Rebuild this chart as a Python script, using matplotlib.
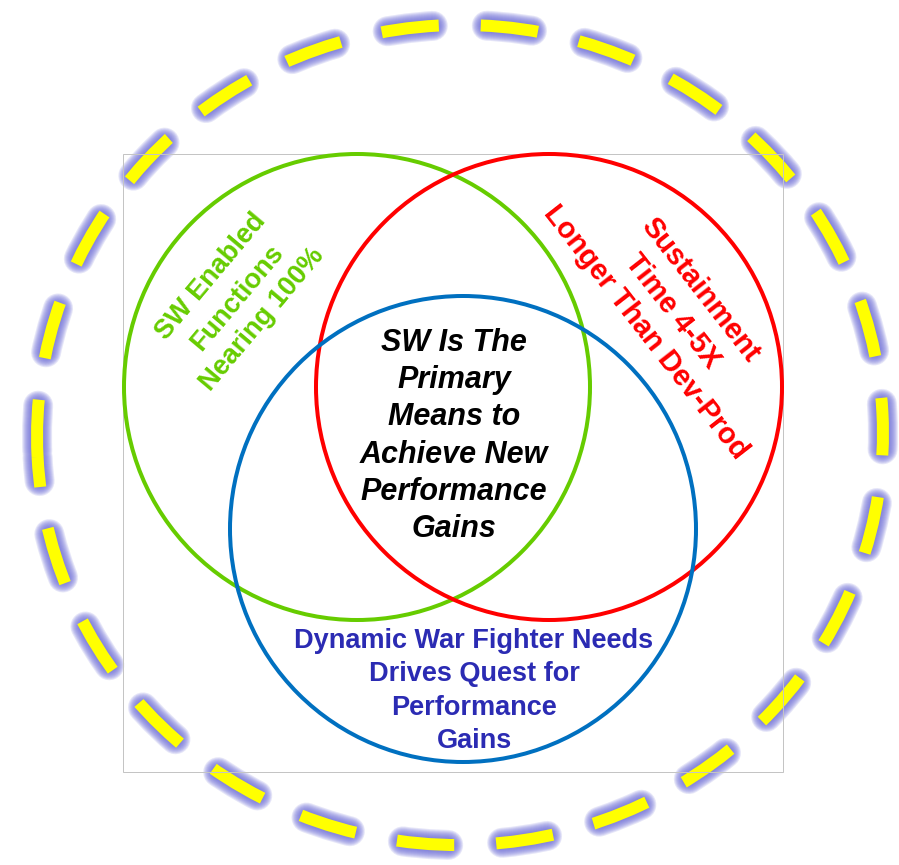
"""
Venn diagram: software as the means to new performance gains
Three overlapping circles inside a glowing dashed ring.
"""
import numpy as np
import matplotlib
matplotlib.use("Agg")
import matplotlib.pyplot as plt
from matplotlib.patches import Circle, Ellipse, Rectangle

# ── Data ──────────────────────────────────────────────────────────────────────
set_names   = ["SW Enabled\nFunctions\nNearing 100%",
               "Sustainment\nTime 4-5X\nLonger Than Dev-Prod",
               "Dynamic War Fighter Needs\nDrives Quest for\nPerformance\nGains"]
centre_text = "SW Is The\nPrimary\nMeans to\nAchieve New\nPerformance\nGains"
circle_x    = [357, 549, 463]      # circle centres (pixel space)
circle_y    = [387, 387, 529]
circle_r    = [233, 233, 233]
set_colors  = ["#66cc00", "#ff0000", "#0070c0"]
text_colors = ["#66cc00", "#ff0000", "#2b2bb3"]

# ── Figure in pixel coordinates ──────────────────────────────────────────────
W, H = 899, 865
plt.rcParams["lines.scale_dashes"] = False
fig = plt.figure(figsize=(W / 100, H / 100), dpi=100)
ax = fig.add_axes([0, 0, 1, 1])
ax.set_xlim(0, W)
ax.set_ylim(H, 0)
ax.set_aspect("equal")
ax.axis("off")

PX = 0.72  # points per pixel at dpi 100

# ── Glowing dashed ring ───────────────────────────────────────────────────────
# the unit-circle path starts at (0,-1); rotating by 267 deg puts the start
# just below the left-most point, running clockwise on screen.
# 26 full dash periods plus a short tail that joins the first dash
ring_cx, ring_cy, ring_rx, ring_ry = 460, 435, 423, 410
a, b = ring_rx, ring_ry
perim = np.pi * (3 * (a + b) - np.sqrt((3 * a + b) * (a + 3 * b)))
tail = 30
period = (perim - tail) / 26
dash = 57.5
gap = period - dash
yl_w = 12
start_angle = 267

# glow: round-capped strokes, shortened by half the yellow width so the
# halo reaches e pixels past each yellow dash end
for e in range(1, 10):
    ax.add_patch(Ellipse((ring_cx, ring_cy), 2 * ring_ry, 2 * ring_rx,
                         angle=start_angle, fill=False,
                         edgecolor="#6e6ed8", alpha=0.17,
                         linewidth=(yl_w + 2 * e) * PX, capstyle="round",
                         linestyle=((period - 6) * PX,
                                    ((dash - 12) * PX, (gap + 12) * PX)),
                         zorder=1))
ax.add_patch(Ellipse((ring_cx, ring_cy), 2 * ring_ry, 2 * ring_rx,
                     angle=start_angle, fill=False, edgecolor="#ffff00",
                     linewidth=yl_w * PX, capstyle="butt",
                     linestyle=(0, (dash * PX, gap * PX)), zorder=2))

# ── Frame ─────────────────────────────────────────────────────────────────────
ax.add_patch(Rectangle((122.5, 153.5), 660.5, 618, fill=False,
                       edgecolor="#c4c4c4", linewidth=1 * PX, zorder=3))

# ── Circles ───────────────────────────────────────────────────────────────────
for x, y, r, c in zip(circle_x, circle_y, circle_r, set_colors):
    ax.add_patch(Circle((x, y), r, fill=False, edgecolor=c,
                        linewidth=4 * PX, zorder=4))

# ── Labels ────────────────────────────────────────────────────────────────────
font = "Liberation Sans"
ax.text(237, 298, set_names[0], color=text_colors[0], fontsize=19.5,
        fontweight="bold", family=font, rotation=50, rotation_mode="anchor",
        ha="center", va="center", multialignment="center", linespacing=1.37,
        zorder=5)
ax.text(673, 311, set_names[1], color=text_colors[1], fontsize=21,
        fontweight="bold", family=font, rotation=-52, rotation_mode="anchor",
        ha="center", va="center", multialignment="center", linespacing=1.3,
        zorder=5)
ax.text(474, 691, set_names[2], color=text_colors[2], fontsize=19.5,
        fontweight="bold", family=font, ha="center", va="center",
        multialignment="center", linespacing=1.38, zorder=5)
ax.text(454, 436, centre_text, color="black", fontsize=22,
        fontweight="bold", fontstyle="italic", family=font,
        ha="center", va="center", multialignment="center",
        linespacing=1.31, zorder=5)

fig.savefig("out.png", dpi=100, facecolor="white")
